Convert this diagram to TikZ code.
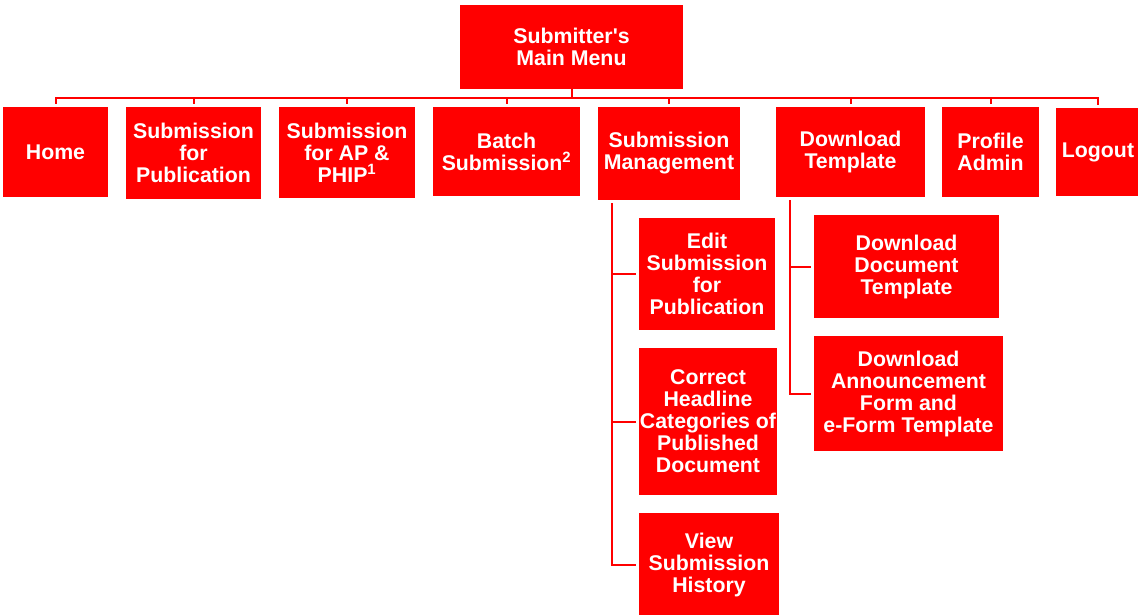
\documentclass[tikz,border=0pt]{standalone}
\usepackage{fontspec}
\setmainfont{Liberation Sans}[Ligatures=TeXOff]
\tikzset{
  menu/.style={fill=red,text=white,rectangle,inner sep=0pt,align=center,
    font=\bfseries\fontsize{21.3}{22}\selectfont},
  link/.style={draw=red,line width=2pt}
}
\begin{document}
\begin{tikzpicture}[x=1pt,y=-1pt]
        \useasboundingbox (0,0) rectangle (1138,615);
        %% Main menu
        \node[menu,minimum width=223pt,minimum height=84pt] (main) at (571.5,47) {Submitter's\\Main Menu};
        %% First level
        \node[menu,minimum width=105pt,minimum height=90pt] (home) at (55.5,152) {Home};
        \node[menu,minimum width=135pt,minimum height=92pt] (subpub) at (193.5,153) {Submission\\for\\Publication};
        \node[menu,minimum width=136pt,minimum height=91pt] (subap) at (347,152.5) {Submission\\for AP \&\\PHIP\textsuperscript{1}};
        \node[menu,minimum width=147pt,minimum height=89pt] (batch) at (506.5,151.5) {Batch\\Submission\textsuperscript{2}};
        \node[menu,minimum width=142pt,minimum height=93pt] (subman) at (669,153.5) {Submission\\Management};
        \node[menu,minimum width=149pt,minimum height=90pt] (dltpl) at (850.5,152) {Download\\Template};
        \node[menu,minimum width=97pt,minimum height=90pt] (profile) at (990.5,152) {Profile\\Admin};
        \node[menu,minimum width=84pt,minimum height=88pt] (logout) at (1098,152) {Logout};
        %% Submission management items
        \node[menu,minimum width=136pt,minimum height=112pt] (edit) at (707,274) {Edit\\Submission\\for\\Publication};
        \node[menu,minimum width=138pt,minimum height=147pt] (correct) at (708,421.5) {Correct\\Headline\\Categories of\\Published\\Document};
        \node[menu,minimum width=140pt,minimum height=104pt] (view) at (709,565) {View\\Submission\\History};
        %% Download template items
        \node[menu,minimum width=185pt,minimum height=103pt] (dldoc) at (906.5,266.5) {Download\\Document\\Template};
        \node[menu,minimum width=189pt,minimum height=115pt] (dlann) at (908.5,393.5) {Download\\Announcement\\Form and\\e-Form Template};
        %% Links
        \foreach \child in {home,subpub,subap,batch,subman,dltpl,profile,logout}
          \draw[link] (main.south) -- ++(0,9) -| ([yshift=3pt]\child.north);
        \foreach \child in {edit,correct,view}
          \draw[link] ([xshift=14pt,yshift=-3pt]subman.south west) |- ([xshift=-3pt]\child.west);
        \foreach \child in {dldoc,dlann}
          \draw[link] ([xshift=14pt,yshift=-3pt]dltpl.south west) |- ([xshift=-3pt]\child.west);
    \end{tikzpicture}
\end{document}
